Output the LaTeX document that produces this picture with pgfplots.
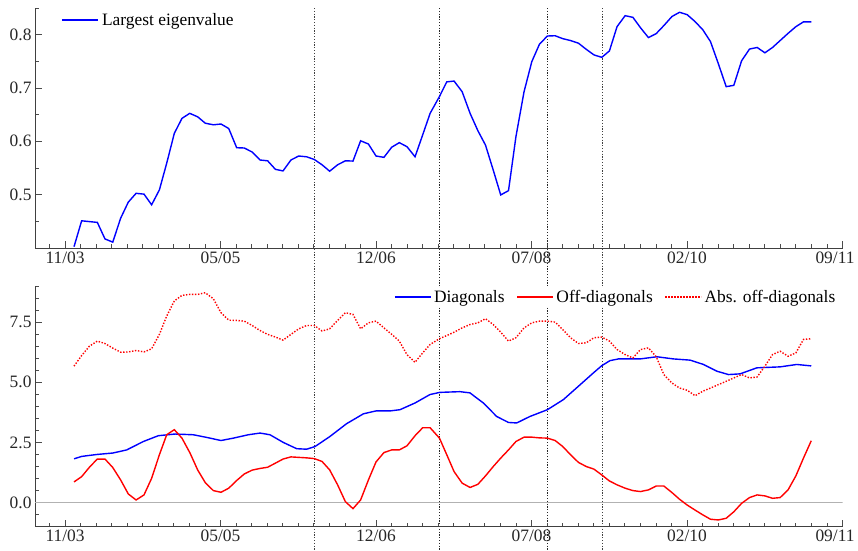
\documentclass[border=0pt]{standalone}
\usepackage{fontspec}
\setmainfont{Liberation Serif}
\usepackage{pgfplots}
\pgfplotsset{compat=1.18}

\pgfplotstableread{
x y
0.058 0.4025
0.107 0.451
0.157 0.4495
0.208 0.448
0.257 0.417
0.307 0.411
0.358 0.456
0.407 0.486
0.457 0.5025
0.508 0.501
0.557 0.481
0.607 0.509
0.654 0.559
0.703 0.615
0.752 0.643
0.802 0.6525
0.853 0.646
0.902 0.634
0.954 0.631
1.003 0.6325
1.053 0.624
1.104 0.588
1.153 0.5875
1.203 0.580
1.254 0.565
1.303 0.5635
1.353 0.5475
1.402 0.5445
1.453 0.565
1.503 0.5725
1.554 0.571
1.603 0.566
1.653 0.556
1.702 0.544
1.753 0.556
1.803 0.5635
1.852 0.563
1.901 0.601
1.951 0.595
2.000 0.5725
2.051 0.570
2.101 0.589
2.150 0.5975
2.199 0.590
2.251 0.571
2.300 0.612
2.348 0.6525
2.408 0.684
2.455 0.7115
2.502 0.713
2.554 0.693
2.605 0.6525
2.655 0.620
2.704 0.593
2.754 0.546
2.802 0.4995
2.852 0.5075
2.900 0.609
2.952 0.693
3.002 0.7495
3.051 0.782
3.102 0.7975
3.152 0.798
3.201 0.7925
3.251 0.789
3.302 0.784
3.352 0.7725
3.402 0.762
3.452 0.7575
3.501 0.7695
3.550 0.815
3.602 0.8356
3.652 0.8325
3.701 0.813
3.752 0.7945
3.802 0.802
3.851 0.817
3.903 0.834
3.952 0.842
4.001 0.8375
4.052 0.8245
4.102 0.809
4.151 0.787
4.201 0.746
4.252 0.7025
4.301 0.705
4.351 0.751
4.402 0.773
4.451 0.776
4.501 0.766
4.550 0.776
4.599 0.789
4.650 0.8025
4.700 0.815
4.749 0.824
4.799 0.824
}\eigtable

\pgfplotstableread{
x y
0.058 1.82
0.107 1.92
0.204 2.00
0.307 2.06
0.397 2.19
0.504 2.54
0.600 2.78
0.707 2.85
0.825 2.82
0.911 2.71
1.003 2.58
1.083 2.68
1.179 2.82
1.254 2.89
1.318 2.82
1.404 2.50
1.490 2.24
1.554 2.22
1.608 2.33
1.704 2.75
1.811 3.28
1.919 3.69
2.000 3.81
2.090 3.81
2.154 3.86
2.251 4.14
2.347 4.49
2.410 4.58
2.540 4.61
2.604 4.56
2.690 4.14
2.776 3.58
2.852 3.33
2.905 3.31
2.990 3.58
3.102 3.86
3.205 4.28
3.313 4.90
3.398 5.39
3.452 5.69
3.505 5.90
3.559 5.97
3.699 5.97
3.806 6.06
3.913 5.97
4.020 5.92
4.106 5.74
4.192 5.46
4.267 5.32
4.342 5.35
4.449 5.60
4.599 5.64
4.706 5.74
4.799 5.68
}\diagtable

\pgfplotstableread{
x y
0.058 0.86
0.107 1.08
0.161 1.50
0.208 1.81
0.257 1.81
0.307 1.46
0.358 0.94
0.407 0.36
0.457 0.11
0.508 0.32
0.557 1.01
0.607 1.99
0.654 2.82
0.703 3.03
0.752 2.68
0.804 2.06
0.853 1.36
0.902 0.83
0.954 0.50
1.003 0.43
1.053 0.60
1.104 0.92
1.153 1.19
1.203 1.35
1.254 1.42
1.303 1.47
1.353 1.64
1.402 1.81
1.453 1.90
1.503 1.88
1.554 1.86
1.603 1.83
1.653 1.71
1.702 1.36
1.753 0.74
1.803 0.04
1.852 -0.25
1.901 0.11
1.951 0.94
2.000 1.69
2.051 2.08
2.101 2.19
2.150 2.19
2.199 2.36
2.251 2.78
2.300 3.11
2.348 3.11
2.408 2.68
2.455 1.99
2.502 1.29
2.554 0.81
2.605 0.63
2.655 0.76
2.704 1.11
2.754 1.50
2.802 1.85
2.852 2.19
2.900 2.54
2.952 2.72
3.002 2.72
3.051 2.69
3.102 2.68
3.152 2.58
3.201 2.33
3.251 1.99
3.302 1.67
3.352 1.50
3.402 1.39
3.452 1.15
3.501 0.90
3.550 0.74
3.602 0.60
3.652 0.50
3.701 0.46
3.752 0.53
3.802 0.69
3.851 0.69
3.903 0.42
3.952 0.14
4.001 -0.10
4.052 -0.31
4.102 -0.51
4.151 -0.69
4.201 -0.72
4.252 -0.65
4.301 -0.38
4.351 -0.03
4.402 0.21
4.451 0.32
4.501 0.28
4.550 0.18
4.599 0.21
4.650 0.53
4.700 1.11
4.749 1.85
4.799 2.57
}\offtable

\pgfplotstableread{
x y
0.058 5.67
0.107 6.11
0.157 6.50
0.208 6.71
0.257 6.61
0.307 6.42
0.358 6.25
0.407 6.26
0.457 6.32
0.508 6.26
0.557 6.39
0.607 6.99
0.654 7.75
0.703 8.38
0.752 8.61
0.802 8.65
0.853 8.65
0.902 8.72
0.954 8.47
1.003 7.89
1.053 7.58
1.104 7.57
1.153 7.54
1.203 7.36
1.254 7.15
1.303 6.99
1.353 6.88
1.402 6.75
1.453 6.99
1.503 7.22
1.554 7.36
1.603 7.36
1.653 7.13
1.702 7.22
1.753 7.57
1.803 7.89
1.852 7.82
1.901 7.22
1.951 7.47
2.000 7.54
2.051 7.26
2.101 6.99
2.150 6.71
2.199 6.15
2.251 5.83
2.300 6.22
2.348 6.57
2.408 6.81
2.455 6.94
2.502 7.08
2.554 7.26
2.605 7.40
2.655 7.47
2.704 7.64
2.754 7.40
2.802 7.08
2.852 6.71
2.900 6.85
2.952 7.26
3.002 7.47
3.051 7.54
3.102 7.54
3.152 7.50
3.201 7.19
3.251 6.85
3.302 6.61
3.352 6.64
3.402 6.85
3.452 6.88
3.501 6.71
3.550 6.36
3.602 6.15
3.652 6.01
3.701 6.36
3.752 6.43
3.802 6.06
3.851 5.32
3.903 4.97
3.952 4.76
4.001 4.67
4.052 4.44
4.102 4.63
4.151 4.76
4.201 4.90
4.252 5.04
4.301 5.18
4.351 5.32
4.402 5.18
4.451 5.22
4.501 5.67
4.550 6.15
4.599 6.29
4.650 6.08
4.700 6.22
4.749 6.78
4.799 6.81
}\abstable

\pgfplotsset{
  mystyle/.style={
    scale only axis, width=807.5bp,
    axis x line*=bottom, axis y line*=left,
    xmin=-0.193, xmax=5,
    xtick={0,1,2,3,4,5},
    xticklabels={11/03,05/05,12/06,07/08,02/10,\hspace*{-15bp}09/11},
    minor xtick={-0.1,0.1,0.2,0.3,0.4,0.5,0.6,0.7,0.8,0.9,
                 1.1,1.2,1.3,1.4,1.5,1.6,1.7,1.8,1.9,
                 2.1,2.2,2.3,2.4,2.5,2.6,2.7,2.8,2.9,
                 3.1,3.2,3.3,3.4,3.5,3.6,3.7,3.8,3.9,
                 4.1,4.2,4.3,4.4,4.5,4.6,4.7,4.8,4.9},
    tick align=inside,
    major tick length=7bp, minor tick length=4bp,
    every tick/.style={black!70, line width=0.8bp},
    axis line style={black!75, line width=0.9bp},
    tick label style={font=\fontsize{17.4bp}{20bp}\selectfont, text=black!85},
    /pgf/number format/assume math mode=true,
    yticklabel style={/pgf/number format/.cd, fixed, fixed zerofill, precision=1},
    legend style={font=\fontsize{17.4bp}{20bp}\selectfont, draw=none},
    legend image code/.code={\draw[#1] (0bp,0bp) -- (36bp,0bp);},
    legend cell align=left,
  }
}

\begin{document}
\begin{tikzpicture}
\begin{axis}[mystyle,
  at={(35bp,303bp)}, anchor=south west, height=240bp,
  ymin=0.4, ymax=0.85,
  ytick={0.5,0.6,0.7,0.8},
  minor ytick={0.45,0.55,0.65,0.75,0.85},
  clip=false,
  legend style={fill=none, at={(axis description cs:0,1)}, anchor=north west, xshift=23bp, yshift=-1bp,
    /tikz/every odd column/.append style={column sep=1.5bp}},
]
\draw[black!75, line width=0.8bp, dash pattern=on 1.2bp off 1.6bp] (axis cs:1.604,0.85) -- (axis cs:1.604,-0.168);
\draw[black!85, line width=0.8bp, dash pattern=on 1.2bp off 1.6bp] (axis cs:2.410,0.85) -- (axis cs:2.410,-0.168);
\draw[black!85, line width=0.8bp, dash pattern=on 1.2bp off 1.6bp] (axis cs:3.102,0.85) -- (axis cs:3.102,-0.168);
\draw[black!75, line width=0.8bp, dash pattern=on 1.2bp off 1.6bp] (axis cs:3.459,0.85) -- (axis cs:3.459,-0.168);
\addplot[blue, line width=1.4bp] table[x=x,y=y] {\eigtable};
\addlegendentry{Largest eigenvalue}
\end{axis}

\begin{axis}[mystyle,
  at={(35bp,24.3bp)}, anchor=south west, height=240.7bp,
  ymin=-1, ymax=9,
  ytick={0,2.5,5,7.5},
  minor ytick={-1,-0.5,0.5,1,1.5,2,3,3.5,4,4.5,5.5,6,6.5,7,8,8.5,9},
  legend columns=3,
  legend style={fill=white, inner sep=1bp, at={(axis description cs:1,1)}, anchor=north east, xshift=-4bp, yshift=-1bp,
    /tikz/every even column/.append style={column sep=10bp},
    /tikz/every odd column/.append style={column sep=0.5bp}},
]
\draw[black!30, line width=1bp] (axis cs:-0.193,0) -- (axis cs:5,0);
\addplot[blue, line width=1.4bp] table[x=x,y=y] {\diagtable};
\addlegendentry{Diagonals}
\addplot[red, line width=1.4bp] table[x=x,y=y] {\offtable};
\addlegendentry{Off-diagonals}
\addplot[red, line width=1.4bp, dash pattern=on 1.4bp off 1.6bp] table[x=x,y=y] {\abstable};
\addlegendentry{Abs. off-diagonals}
\end{axis}
\pgfresetboundingbox
\path[use as bounding box] (0,0) rectangle (858bp,551bp);
\end{tikzpicture}
\end{document}
